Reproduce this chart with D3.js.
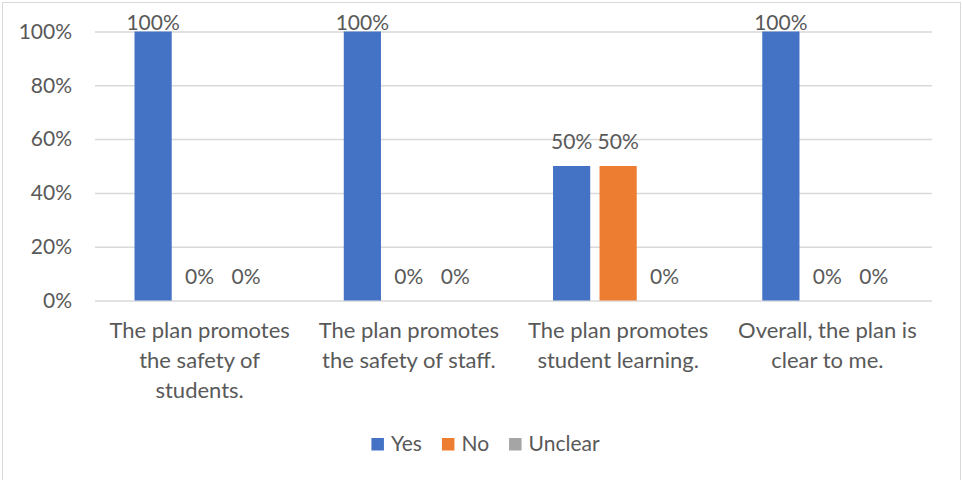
<!DOCTYPE html>
<html>
<head>
<meta charset="utf-8">
<script src="https://cdn.jsdelivr.net/npm/d3@7"></script>
<style>
  body { margin: 0; background: #fff; }
  text { font-family: Lato, "Liberation Sans", sans-serif; fill: #595959; }
</style>
</head>
<body>
<div id="chart"></div>
<script>
const categories = [
    "The plan promotes the safety of students.",
    "The plan promotes the safety of staff.",
    "The plan promotes student learning.",
    "Overall, the plan is clear to me."
];
const seriesNames = ["Yes", "No", "Unclear"];
const yesValues = [1, 1, 0.5, 1];
const noValues = [0, 0, 0.5, 0];
const unclearValues = [0, 0, 0, 0];
const tickValues = [0, 0.2, 0.4, 0.6, 0.8, 1];
const seriesColors = ["#4472C4", "#ED7D31", "#A5A5A5"];

const W = 962, H = 480;
const plot = { left: 95, right: 932, top: 31.5, bottom: 300.5 };
const fontSize = 21;
const catFontSize = 22;

const table = categories.map((c, i) => ({
    category: c,
    values: [yesValues[i], noValues[i], unclearValues[i]]
}));

const svg = d3.select("#chart").append("svg")
    .attr("width", W)
    .attr("height", H);

// outer frame
svg.append("rect")
    .attr("x", 2.5).attr("y", 2.5)
    .attr("width", 958).attr("height", 500)
    .attr("fill", "#fff")
    .attr("stroke", "#d9d9d9")
    .attr("stroke-width", 1);

const x0 = d3.scaleBand().domain(categories).range([plot.left, plot.right]);
const x1 = d3.scaleBand().domain(seriesNames)
    .range([0, x0.bandwidth()])
    .paddingInner(0.2)
    .paddingOuter(0.85);
const y = d3.scaleLinear().domain([0, 1]).range([plot.bottom, plot.top]);
const color = d3.scaleOrdinal().domain(seriesNames).range(seriesColors);

// y axis + gridlines
const yAxis = svg.append("g")
    .attr("transform", `translate(${plot.left},0)`)
    .call(d3.axisLeft(y)
        .tickValues(tickValues)
        .tickFormat(d3.format(".0%"))
        .tickSize(-(plot.right - plot.left))
        .tickPadding(23));
yAxis.select(".domain").remove();
yAxis.selectAll("line").attr("stroke", "#d9d9d9").attr("stroke-width", 1.5);
yAxis.selectAll("text")
    .style("font-size", fontSize + "px")
    .attr("fill", "#595959");

// bars
const groups = svg.selectAll(".group")
    .data(table)
    .enter().append("g")
    .attr("class", "group")
    .attr("transform", (d) => `translate(${x0(d.category)},0)`);

groups.selectAll("rect")
    .data((d) => d.values.map((v, i) => ({ series: seriesNames[i], value: v })))
    .enter().append("rect")
    .attr("x", (d) => x1(d.series))
    .attr("y", (d) => y(d.value))
    .attr("width", x1.bandwidth())
    .attr("height", (d) => y(0) - y(d.value))
    .attr("fill", (d) => color(d.series));

// data labels
groups.selectAll(".label")
    .data((d) => d.values.map((v, i) => ({ series: seriesNames[i], value: v })))
    .enter().append("text")
    .attr("class", "label")
    .attr("text-anchor", "middle")
    .attr("x", (d) => x1(d.series) + x1.bandwidth() / 2)
    .attr("y", (d) => Math.max(y(d.value) - 17, plot.top - 2))
    .style("font-size", fontSize + "px")
    .text((d) => d3.format(".0%")(d.value));

// category labels
const xAxis = svg.append("g")
    .attr("transform", `translate(0,${plot.bottom})`)
    .call(d3.axisBottom(x0).tickSize(0).tickPadding(22));
xAxis.select(".domain").remove();
xAxis.selectAll("text")
    .style("font-size", catFontSize + "px")
    .attr("fill", "#595959")
    .call(wrap, 196);

// legend
const legend = svg.append("g").attr("class", "legend");
const items = legend.selectAll("g")
    .data(seriesNames)
    .enter().append("g");
items.append("rect")
    .attr("width", 12.5).attr("height", 12.5)
    .attr("y", -12.5)
    .attr("fill", (d) => color(d));
items.append("text")
    .attr("x", 19.5)
    .attr("y", 0)
    .style("font-size", fontSize + "px")
    .text((d) => d);

let offset = 0;
items.each(function () {
    const g = d3.select(this);
    g.attr("transform", `translate(${offset},0)`);
    offset += 19.5 + g.select("text").node().getComputedTextLength() + 20;
});
const legendWidth = offset - 20;
legend.attr("transform", `translate(${485.5 - legendWidth / 2},450.5)`);

function wrap(text, width) {
    text.each(function () {
        const text = d3.select(this);
        const words = text.text().split(/\s+/).reverse();
        let line = [];
        let lineNumber = 0;
        const lineHeight = 30;
        const yPos = text.attr("y");
        const dy = parseFloat(text.attr("dy"));
        let tspan = text.text(null).append("tspan").attr("x", 0).attr("y", yPos).attr("dy", `${dy}em`);
        let word;
        while ((word = words.pop())) {
            line.push(word);
            tspan.text(line.join(" "));
            if (tspan.node().getComputedTextLength() > width) {
                line.pop();
                tspan.text(line.join(" "));
                line = [word];
                ++lineNumber;
                tspan = text.append("tspan")
                    .attr("x", 0)
                    .attr("y", +yPos + dy * catFontSize + lineNumber * lineHeight)
                    .text(word);
            }
        }
    });
}
</script>
</body>
</html>
